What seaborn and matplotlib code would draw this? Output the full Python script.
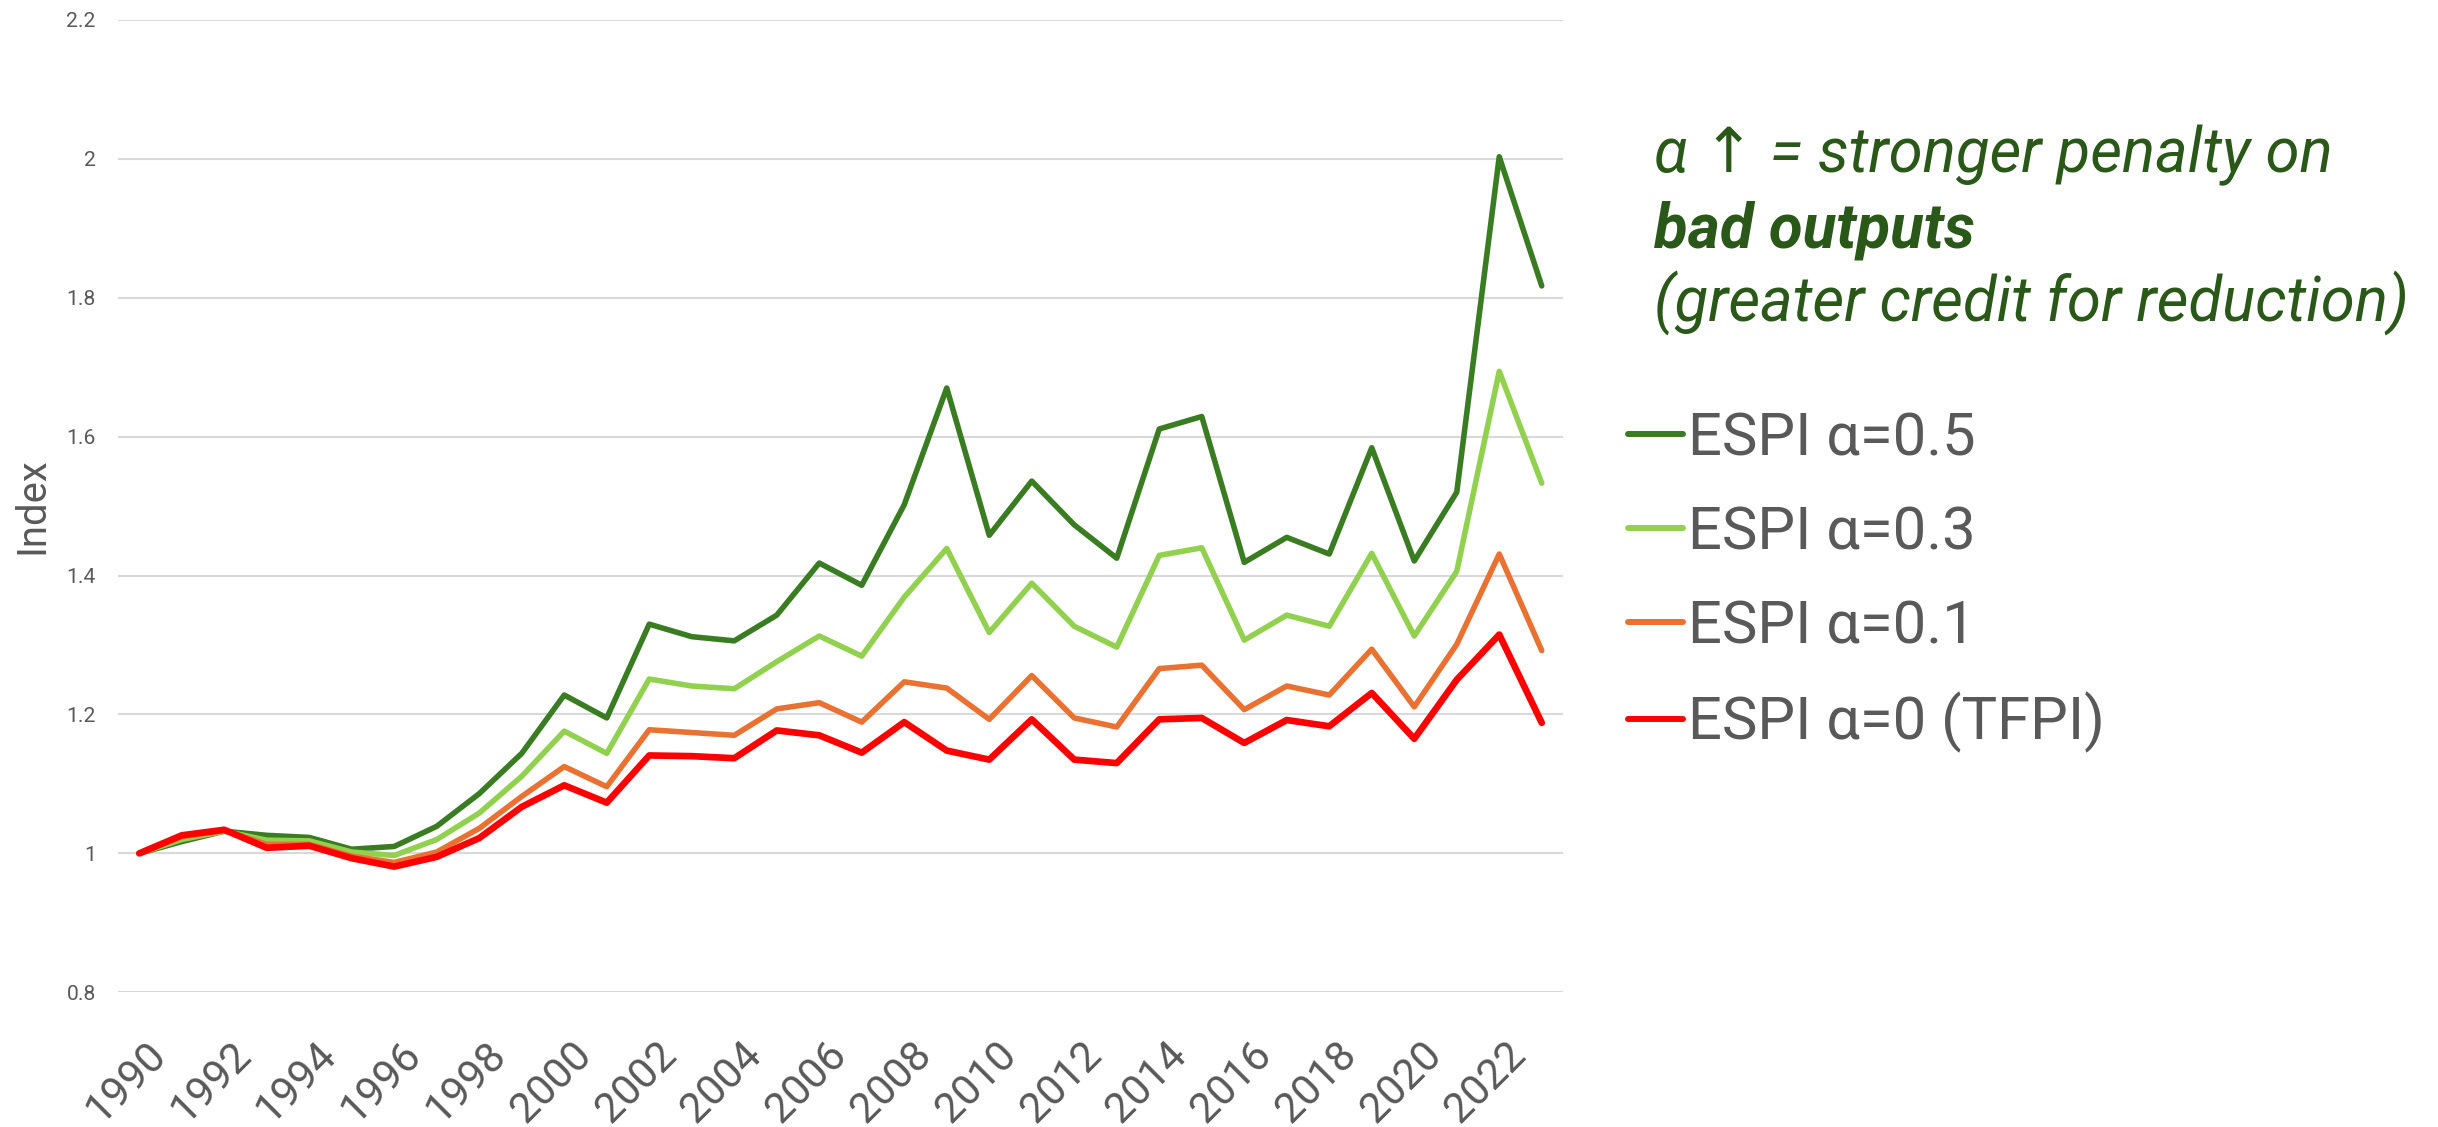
import matplotlib
matplotlib.use("Agg")
import matplotlib.pyplot as plt
import matplotlib.transforms as mtransforms
import numpy as np
import pandas as pd
import seaborn as sns

# ---- data -------------------------------------------------------------
years = list(range(1990, 2024))

espi_05 = [1.000, 1.017, 1.032, 1.026, 1.023, 1.006, 1.010, 1.039, 1.086, 1.144,
           1.228, 1.195, 1.330, 1.312, 1.306, 1.343, 1.418, 1.386, 1.502, 1.670,
           1.458, 1.536, 1.473, 1.425, 1.611, 1.629, 1.419, 1.455, 1.431, 1.584,
           1.421, 1.520, 2.003, 1.817]
espi_03 = [1.000, 1.020, 1.032, 1.019, 1.018, 1.002, 0.997, 1.020, 1.058, 1.111,
           1.176, 1.144, 1.251, 1.241, 1.237, 1.276, 1.313, 1.284, 1.369, 1.439,
           1.318, 1.389, 1.327, 1.297, 1.429, 1.440, 1.307, 1.343, 1.327, 1.432,
           1.313, 1.406, 1.694, 1.533]
espi_01 = [1.000, 1.024, 1.033, 1.013, 1.013, 0.996, 0.987, 1.002, 1.036, 1.082,
           1.125, 1.096, 1.178, 1.174, 1.170, 1.208, 1.217, 1.189, 1.247, 1.238,
           1.193, 1.256, 1.195, 1.182, 1.266, 1.271, 1.207, 1.241, 1.228, 1.294,
           1.211, 1.301, 1.431, 1.292]
espi_00 = [1.000, 1.026, 1.034, 1.008, 1.011, 0.993, 0.981, 0.995, 1.022, 1.067,
           1.098, 1.073, 1.141, 1.140, 1.137, 1.177, 1.170, 1.145, 1.189, 1.148,
           1.135, 1.193, 1.135, 1.130, 1.193, 1.195, 1.159, 1.192, 1.183, 1.231,
           1.165, 1.250, 1.315, 1.188]

series_names = ["ESPI α=0.5", "ESPI α=0.3", "ESPI α=0.1", "ESPI α=0 (TFPI)"]
series_values = [espi_05, espi_03, espi_01, espi_00]
series_colors = ["#3A7C22", "#92D050", "#E97132", "#FF0000"]
series_widths = [4.0, 4.0, 4.0, 4.8]

y_ticks = [0.8, 1.0, 1.2, 1.4, 1.6, 1.8, 2.0, 2.2]
y_tick_labels = ["0.8", "1", "1.2", "1.4", "1.6", "1.8", "2", "2.2"]
x_ticks = list(range(1990, 2023, 2))

note_lines = ["α ↑ = stronger penalty on", "bad outputs", "(greater credit for reduction)"]

# ---- styling ----------------------------------------------------------
sns.set_theme(style="white")
plt.rcParams["font.family"] = ["Roboto", "DejaVu Sans"]

TEXT_GRAY = "#595959"
NOTE_GREEN = "#2A5818"
W, H = 2438, 1127
DPI = 100

df = pd.DataFrame({
    "year": np.tile(years, len(series_names)),
    "value": np.concatenate(series_values),
    "series": np.repeat(series_names, len(years)),
})

fig = plt.figure(figsize=(W / DPI, H / DPI), dpi=DPI)
ax = fig.add_axes([118 / W, 1 - 992.3 / H, (1563 - 118) / W, (992.3 - 19.9) / H])

sns.lineplot(
    data=df, x="year", y="value", hue="series", hue_order=series_names,
    palette=dict(zip(series_names, series_colors)), size="series",
    sizes=dict(zip(series_names, series_widths)), size_order=series_names,
    estimator=None, errorbar=None, legend=False, ax=ax,
)
for line in ax.get_lines():
    line.set_solid_joinstyle("round")
    line.set_solid_capstyle("round")

ax.set_xlim(1989.5, 2023.5)
ax.set_ylim(0.8, 2.2)
ax.set_yticks(y_ticks)
ax.set_yticklabels(y_tick_labels)
ax.set_xticks(x_ticks)
ax.set_xticklabels([str(y) for y in x_ticks])

ax.grid(axis="y", color="#D9D9D9", linewidth=1.5)
ax.grid(axis="x", visible=False)
ax.set_axisbelow(True)
for s in ax.spines.values():
    s.set_visible(False)

ax.tick_params(axis="y", length=0, pad=16, labelsize=15.2, labelcolor=TEXT_GRAY)
ax.tick_params(axis="x", length=0, pad=30, labelsize=30.5, labelcolor=TEXT_GRAY)
shift = mtransforms.ScaledTranslation(6 / DPI, 0, fig.dpi_scale_trans)
for lab in ax.get_xticklabels():
    lab.set_rotation(45)
    lab.set_ha("right")
    lab.set_va("top")
    lab.set_rotation_mode("anchor")
    lab.set_transform(lab.get_transform() + shift)

ax.set_xlabel("")
ax.set_ylabel("Index", fontsize=28.8, color=TEXT_GRAY)
ax.yaxis.set_label_coords(-0.0464, 0.5)

# legend on the right
handles = ax.get_lines()[:len(series_names)]
leg = fig.legend(
    handles, series_names, loc="upper left",
    bbox_to_anchor=(1628 / W, 1 - 410 / H), bbox_transform=fig.transFigure,
    frameon=False, fontsize=43, labelcolor=TEXT_GRAY, handlelength=0.92,
    handletextpad=0.08, labelspacing=0.62, borderpad=0, borderaxespad=0,
)
for h in leg.get_lines():
    h.set_linewidth(4.3)
    h.set_solid_capstyle("round")

# explanatory note above the legend
note_x = 1654 / W
note_size = 44.5
fig.text(note_x, 1 - 172 / H, note_lines[0], fontsize=note_size, style="italic",
         color=NOTE_GREEN, va="baseline", ha="left")
fig.text(note_x, 1 - 247 / H, note_lines[1], fontsize=note_size, style="italic",
         weight="bold", color=NOTE_GREEN, va="baseline", ha="left")
fig.text(note_x, 1 - 322 / H, note_lines[2], fontsize=note_size, style="italic",
         color=NOTE_GREEN, va="baseline", ha="left")

fig.savefig("out.png", dpi=DPI, facecolor="white")
